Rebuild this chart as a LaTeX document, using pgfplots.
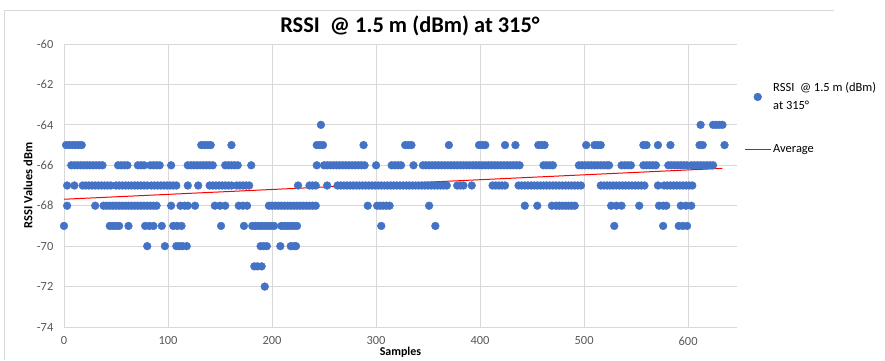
\documentclass[border=0pt]{standalone}
\usepackage{pgfplots}
\pgfplotsset{compat=1.18}
\usepackage{fontspec}
\setmainfont{Carlito}
\definecolor{rssiblue}{HTML}{4472C4}
\definecolor{gridgray}{HTML}{D9D9D9}
\definecolor{labelgray}{HTML}{595959}

\begin{document}
\begin{tikzpicture}[x=1bp,y=1bp]
\begin{axis}[
  scale only axis, width=673bp, height=283bp,
  xmin=0, xmax=647, ymin=-74, ymax=-60,
  xtick={0,100,...,600}, ytick={-74,-72,...,-60},
  axis x line=bottom, axis y line=left,
  axis line style={gridgray, line width=0.8bp, -},
  grid=major, major grid style={gridgray, line width=0.8bp},
  tick style={draw=none},
  ticklabel style={font=\fontsize{12.5}{14}\selectfont, text=labelgray},
  xticklabel style={yshift=-4bp},
  yticklabel style={xshift=-5bp},
  /pgf/number format/assume math mode=true,
  title={RSSI\ \ @ 1.5 m (dBm) at 315°},
  title style={font=\bfseries\fontsize{22.5}{25}\selectfont,
    at={(axis description cs:0.514,1.064)}, anchor=center, yshift=-6pt},
  xlabel={Samples},
  xlabel style={font=\bfseries\fontsize{12}{14}\selectfont,
    at={(axis description cs:0.5,-0.088)}, anchor=center},
  ylabel={RSSI Values dBm},
  ylabel style={font=\bfseries\fontsize{12.5}{14}\selectfont,
    at={(axis description cs:-0.0535,0.5)}, anchor=center},
  legend style={at={(axis description cs:1.006,0.879)}, anchor=north west,
    draw=none, fill=none, font=\fontsize{12.5}{18.5}\selectfont,
    cells={anchor=west, align=left}, row sep=29bp,
    /tikz/every even column/.append style={column sep=1bp}},
  legend image code/.code={\draw[mark repeat=2,mark phase=2]
    plot coordinates {(0bp,0bp) (13bp,0bp) (26bp,0bp)};},
]
\coordinate (plotSW) at (rel axis cs:0,0);

% RSSI readings, one group per level
\addplot[only marks, mark=*, mark size=3.9bp,
  mark options={fill=rssiblue, draw=rssiblue}] coordinates {
 (247,-64) (612,-64) (624,-64) (627,-64) (630,-64) (633,-64)
 (2,-65) (5,-65) (8,-65) (11,-65) (14,-65) (17,-65)
 (132,-65) (135,-65) (138,-65) (141,-65) (161,-65)
 (243,-65) (246,-65) (249,-65) (288,-65)
 (328,-65) (331,-65) (334,-65) (370,-65)
 (399,-65) (402,-65) (405,-65) (424,-65) (434,-65)
 (456,-65) (459,-65) (462,-65) (502,-65)
 (510,-65) (513,-65) (516,-65) (557,-65) (560,-65)
 (571,-65) (583,-65) (611,-65) (614,-65) (635,-65)
 (7,-66) (10,-66) (13,-66) (16,-66) (19,-66) (22,-66) (25,-66) (28,-66)
 (31,-66) (34,-66) (37,-66) (52,-66) (55,-66) (58,-66) (61,-66)
 (71,-66) (74,-66) (77,-66) (83,-66) (86,-66) (89,-66) (92,-66) (103,-66)
 (119,-66) (122,-66) (125,-66) (128,-66) (131,-66) (134,-66) (137,-66)
 (140,-66) (143,-66) (155,-66) (158,-66) (161,-66) (164,-66) (167,-66)
 (180,-66) (243,-66)
 (250,-66) (253,-66) (256,-66) (259,-66) (262,-66) (265,-66) (268,-66)
 (271,-66) (274,-66) (277,-66) (280,-66) (283,-66) (286,-66) (289,-66)
 (300,-66) (315,-66) (318,-66) (321,-66) (324,-66) (336,-66)
 (345,-66) (348,-66) (351,-66) (354,-66) (357,-66) (360,-66) (363,-66)
 (366,-66) (369,-66) (372,-66) (375,-66) (378,-66) (381,-66) (384,-66)
 (387,-66) (390,-66) (393,-66) (396,-66) (399,-66) (402,-66) (405,-66)
 (408,-66) (411,-66) (414,-66) (417,-66) (420,-66) (423,-66) (426,-66)
 (429,-66) (432,-66) (435,-66) (438,-66)
 (461,-66) (464,-66) (467,-66) (470,-66)
 (495,-66) (498,-66) (501,-66) (504,-66) (507,-66) (510,-66) (513,-66)
 (516,-66) (519,-66) (522,-66) (524,-66)
 (536,-66) (539,-66) (542,-66) (545,-66)
 (557,-66) (560,-66) (563,-66) (566,-66) (569,-66)
 (581,-66) (584,-66) (587,-66) (590,-66) (593,-66) (596,-66) (599,-66)
 (603,-66) (606,-66) (609,-66) (612,-66) (615,-66) (618,-66) (621,-66) (624,-66)
 (3,-67) (10,-67)
 (18,-67) (21,-67) (24,-67) (27,-67) (30,-67) (33,-67) (36,-67) (39,-67)
 (42,-67) (45,-67) (50,-67) (53,-67) (56,-67) (59,-67) (62,-67) (65,-67)
 (68,-67) (71,-67) (74,-67) (77,-67) (80,-67) (84,-67) (87,-67) (90,-67)
 (93,-67) (96,-67) (99,-67) (102,-67) (105,-67) (108,-67) (119,-67) (129,-67)
 (140,-67) (143,-67) (146,-67) (149,-67) (152,-67) (155,-67) (158,-67) (161,-67)
 (166,-67) (169,-67) (172,-67) (175,-67) (178,-67)
 (225,-67) (236,-67) (239,-67) (242,-67) (253,-67)
 (263,-67) (266,-67) (269,-67) (272,-67) (275,-67) (278,-67) (281,-67)
 (284,-67) (287,-67) (290,-67) (293,-67) (296,-67) (299,-67) (302,-67)
 (305,-67) (308,-67) (311,-67) (314,-67) (317,-67) (320,-67) (323,-67)
 (326,-67) (329,-67) (332,-67) (335,-67) (338,-67) (341,-67) (344,-67)
 (347,-67) (350,-67) (353,-67) (356,-67) (359,-67) (362,-67) (365,-67) (368,-67)
 (378,-67) (381,-67) (384,-67) (392,-67)
 (412,-67) (415,-67) (418,-67) (421,-67) (424,-67)
 (437,-67) (440,-67) (443,-67) (446,-67) (449,-67) (452,-67) (455,-67)
 (458,-67) (461,-67) (464,-67) (467,-67) (470,-67) (473,-67) (476,-67)
 (479,-67) (482,-67) (485,-67) (488,-67) (491,-67) (494,-67) (497,-67)
 (516,-67) (519,-67) (522,-67) (525,-67) (528,-67) (531,-67) (534,-67)
 (537,-67) (540,-67) (543,-67) (546,-67) (549,-67) (552,-67) (555,-67) (558,-67)
 (571,-67) (577,-67) (580,-67) (583,-67) (586,-67) (589,-67) (592,-67)
 (595,-67) (598,-67) (601,-67) (604,-67)
 (3,-68) (30,-68)
 (38,-68) (41,-68) (44,-68) (47,-68) (50,-68) (53,-68) (56,-68) (59,-68)
 (62,-68) (65,-68) (68,-68) (71,-68) (74,-68) (77,-68) (80,-68) (83,-68)
 (86,-68) (89,-68) (103,-68) (112,-68) (116,-68) (119,-68) (126,-68)
 (145,-68) (150,-68) (155,-68) (168,-68) (172,-68) (176,-68)
 (197,-68) (200,-68) (203,-68) (206,-68) (209,-68) (212,-68) (215,-68)
 (218,-68) (221,-68) (224,-68) (227,-68) (230,-68) (233,-68) (236,-68)
 (239,-68) (242,-68) (292,-68)
 (301,-68) (304,-68) (307,-68) (310,-68) (313,-68)
 (351,-68) (443,-68) (455,-68) (469,-68)
 (473,-68) (476,-68) (479,-68) (482,-68) (485,-68) (488,-68) (491,-68)
 (526,-68) (531,-68) (536,-68) (553,-68) (572,-68) (576,-68) (579,-68)
 (593,-68) (598,-68) (603,-68)
 (0,-69) (44,-69) (47,-69) (50,-69) (53,-69) (62,-69) (78,-69) (82,-69)
 (86,-69) (94,-69) (105,-69) (109,-69) (113,-69) (151,-69) (173,-69)
 (181,-69) (184,-69) (187,-69) (190,-69) (193,-69) (196,-69) (199,-69) (202,-69)
 (209,-69) (212,-69) (215,-69) (218,-69) (221,-69) (224,-69)
 (305,-69) (357,-69) (529,-69) (576,-69) (591,-69) (595,-69) (599,-69)
 (80,-70) (97,-70) (108,-70) (111,-70) (114,-70) (118,-70)
 (189,-70) (192,-70) (195,-70) (208,-70) (218,-70) (221,-70) (223,-70)
 (183,-71) (186,-71) (190,-71)
 (193,-72)
};
\addlegendentry{RSSI\ \ @ 1.5 m (dBm)\\at 315°}

% linear trend of the readings
\addplot[red, line width=1bp, no marks] coordinates {(0,-67.68) (633,-66.15)};
\addlegendentry{Average}
\end{axis}
% page: the plot area sits 64bp from the left and 33bp from the bottom
\pgfresetboundingbox
\path (plotSW) ++(-64,-33) rectangle ++(885,360);
% chart area frame
\draw[gridgray, line width=0.8bp] (plotSW) ++(-60,-33) -- ++(0,350) -- ++(830,0);
\end{tikzpicture}
\end{document}
